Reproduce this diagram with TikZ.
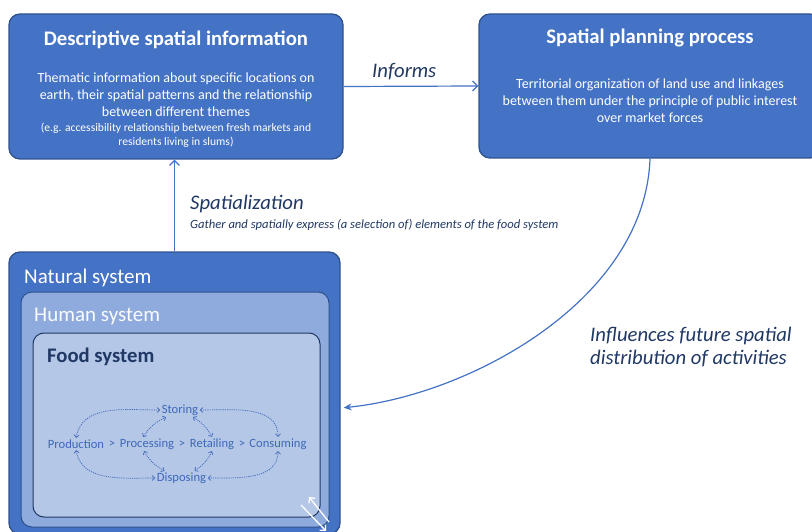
\documentclass[tikz,border=0pt]{standalone}
\usepackage{fontspec}
\setmainfont{Carlito}
\usetikzlibrary{arrows.meta, positioning, calc}

\definecolor{boxblue}{HTML}{4472C4}
\definecolor{boxedge}{HTML}{2F528F}
\definecolor{humanblue}{HTML}{8FAADC}
\definecolor{foodblue}{HTML}{B4C7E7}
\definecolor{navy}{HTML}{203864}
\definecolor{flowblue}{HTML}{3E68B8}

\tikzset{
  bigbox/.style={draw=boxedge, line width=1.3pt, rounded corners=11pt, inner sep=0pt},
  boxtitle/.style={text=white, inner sep=0pt, font=\fontsize{20.7}{24}\selectfont\bfseries},
  boxtext/.style={text=white, inner sep=0pt, align=center, font=\fontsize{14}{17}\selectfont},
  boxnote/.style={text=white, inner sep=0pt, align=center, font=\fontsize{11.6}{14}\selectfont},
  lbl/.style={text=navy, inner sep=0pt, font=\fontsize{20.7}{23}\selectfont\itshape},
  sublbl/.style={text=navy, inner sep=0pt, font=\fontsize{12.6}{15}\selectfont\itshape},
  syslbl/.style={anchor=west, inner sep=0pt, font=\fontsize{21}{24}\selectfont},
  item/.style={text=flowblue, inner sep=1.5pt, font=\fontsize{12.6}{15}\selectfont}
}

\begin{document}
\begin{tikzpicture}[x=1pt, y=-1pt,
    link/.style={draw=boxblue, line width=1.2pt, -{Straight Barb[length=5pt, width=10pt]}},
    bentlink/.style={draw=boxblue, line width=1.2pt, -{Stealth[length=8pt, width=7pt]}},
    flow/.style={draw=flowblue, dash pattern=on 1.2pt off 1pt, line width=0.7pt,
        {Straight Barb[length=2.5pt, width=5pt]}-{Straight Barb[length=2.5pt, width=5pt]}},
    handle/.style={draw=white, line width=1.3pt, -{Straight Barb[length=4pt, width=8pt]}}
  ]
  \useasboundingbox (0,0) rectangle (812,532);
  \clip (0,0) rectangle (812,532);

  % upper boxes
  \node [bigbox, fill=boxblue, minimum width=334pt, minimum height=145pt] (desc) at (176,86.5) {};
  \node [bigbox, fill=boxblue, minimum width=342pt, minimum height=144pt] (plan) at (650,86) {};

  \node [boxtitle] (desctitle) at (176,40) {Descriptive spatial information};
  \node [boxtext, below=23pt of desctitle] (desctext)
      {Thematic information about specific locations on\\
       earth, their spatial patterns and the relationship\\
       between different themes};
  \node [boxnote, below=6pt of desctext] (descnote)
      {(e.g. accessibility relationship between fresh markets and\\
       residents living in slums)};

  \node [boxtitle] (plantitle) at (650,38) {Spatial planning process};
  \node [boxtext, below=31pt of plantitle] (plantext)
      {Territorial organization of land use and linkages\\
       between them under the principle of public interest\\
       over market forces};

  % nested systems
  \node [bigbox, fill=boxblue, minimum width=331pt, minimum height=282pt] (nat) at (174.5,393) {};
  \node [bigbox, fill=humanblue, line width=1pt, minimum width=308pt, minimum height=235pt] (hum) at (175,409.5) {};
  \node [bigbox, fill=foodblue, draw=navy, line width=1pt, minimum width=287pt, minimum height=184pt] (food) at (176.5,425) {};

  \node [syslbl, text=white] (natlbl) at (24,278) {Natural system};
  \node [syslbl, text=white!95!humanblue] (humlbl) at (34,316) {Human system};
  \node [syslbl, text=navy, font=\fontsize{20.7}{24}\selectfont\bfseries] (foodlbl) at (47,357) {Food system};

  % food chain
  \node [item] (stor) at (180,410) {Storing};
  \node [item] (prod) at (76,444) {Production};
  \node [item] (gt1) at (112,444) {>};
  \node [item] (proc) at (147,444) {Processing};
  \node [item] (gt2) at (182,444) {>};
  \node [item] (ret) at (212,444) {Retailing};
  \node [item] (gt3) at (242,444) {>};
  \node [item] (cons) at (278,444) {Consuming};
  \node [item] (disp) at (181.5,478) {Disposing};

  \draw [flow] (prod.north) to[out=80, in=180] (stor.west);
  \draw [flow] (stor.east) to[out=0, in=90] (cons.north);
  \draw [flow] (prod.south) to[out=-80, in=180] (disp.west);
  \draw [flow] (cons.south) to[out=-90, in=0] (disp.east);
  \draw [flow] ([xshift=-4pt]proc.north) to[bend left=15] ([xshift=-14pt]stor.south);
  \draw [flow] ([xshift=13pt]stor.south) to[bend left=15] (ret.north);
  \draw [flow] ([xshift=-3pt]proc.south) to[bend right=15] ([xshift=-17pt]disp.north);
  \draw [flow] (ret.south) to[bend left=15] ([xshift=13pt]disp.north);

  % resize handles
  \coordinate (hndA1) at (329,522);
  \coordinate (hndA2) at (309,497);
  \coordinate (hndB1) at (301,505);
  \coordinate (hndB2) at (326,531);
  \draw [handle] (hndA1) -- (hndA2);
  \draw [handle] (hndB1) -- (hndB2);

  % connectors
  \draw [link] (desc.east) -- (plan.west)
      node [lbl, pos=0.45, above=6pt] (informs) {Informs};
  \draw [link] (nat.north) -- (nat.north |- desc.south);
  \node [lbl, anchor=west] (spatlbl) at (190,204) {Spatialization};
  \node [sublbl, anchor=north west] (spatsub) at ([yshift=-6pt]spatlbl.south west)
      {Gather and spatially express (a selection of) elements of the food system};
  \draw [bentlink, shorten >=3pt] (plan.south) .. controls (645,300) and (470,395) .. ([yshift=-15pt]nat.east);
  \node [lbl, anchor=west, align=left] (influ) at (590,347)
      {Influences future spatial\\distribution of activities};
\end{tikzpicture}
\end{document}
